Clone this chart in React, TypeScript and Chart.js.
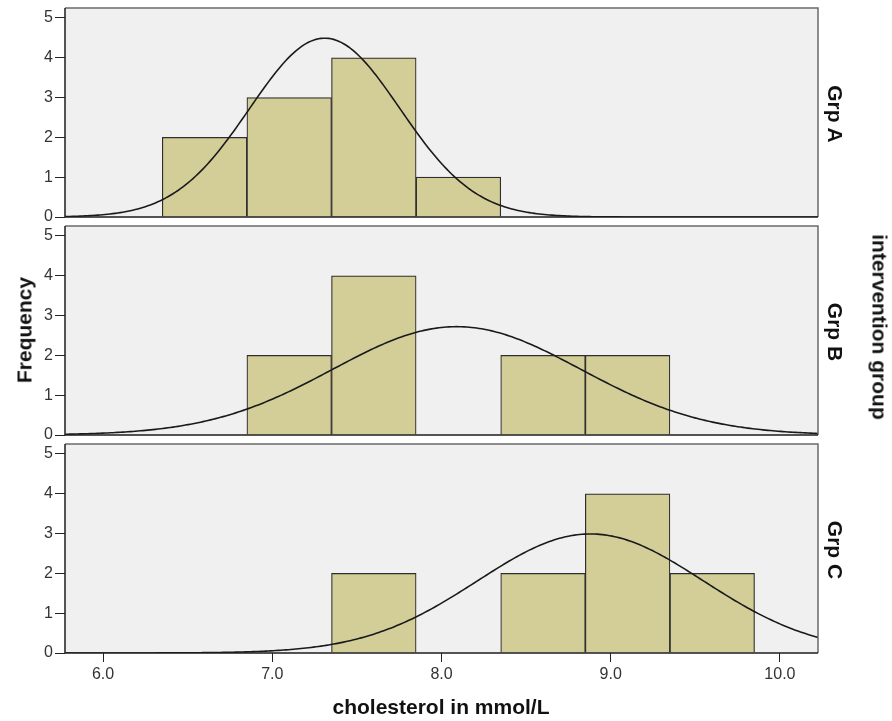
import React, { useEffect, useRef } from "react";
import { Chart, registerables } from "chart.js";

Chart.register(...registerables);

// ---------- data ----------
const GROUPS = ["Grp A", "Grp B", "Grp C"];
const BIN_MIDPOINTS = [6.6, 7.1, 7.6, 8.1, 8.6, 9.1, 9.6];
const GRP_A_COUNTS = [2, 3, 4, 1, 0, 0, 0];
const GRP_B_COUNTS = [0, 2, 4, 0, 2, 2, 0];
const GRP_C_COUNTS = [0, 0, 2, 0, 2, 4, 2];
const GROUP_COUNTS = [GRP_A_COUNTS, GRP_B_COUNTS, GRP_C_COUNTS];
const GROUP_MEANS = [7.31, 8.09, 8.88];
const GROUP_SDS = [0.444, 0.733, 0.667];
const GROUP_N = [10, 10, 10];
const BIN_WIDTH = 0.5;
const X_TICKS = [6, 7, 8, 9, 10];
const Y_TICKS = [0, 1, 2, 3, 4, 5];
const X_MIN = 5.775;
const X_MAX = 10.225;
const Y_MAX = 5.25;
const X_TITLE = "cholesterol in mmol/L";
const Y_TITLE = "Frequency";
const PANEL_TITLE = "intervention group";

// ---------- layout ----------
const W = 892;
const H = 721;
const PLOT_LEFT = 65;
const PLOT_RIGHT = 818;
const PANEL_TOPS = [8, 226, 444];
const PANEL_H = 209;
const X_AXIS_H = 40;
const FONT = "'Liberation Sans', Arial, Helvetica, sans-serif";

function normalCurve(i: number) {
  const pts: { x: number; y: number }[] = [];
  const m = GROUP_MEANS[i];
  const s = GROUP_SDS[i];
  const scale = GROUP_N[i] * BIN_WIDTH;
  const steps = 300;
  for (let k = 0; k <= steps; k++) {
    const x = X_MIN + ((X_MAX - X_MIN) * k) / steps;
    const z = (x - m) / s;
    pts.push({ x, y: (scale / (s * Math.sqrt(2 * Math.PI))) * Math.exp(-0.5 * z * z) });
  }
  return pts;
}

const panelPlugin = {
  id: "panelFrame",
  beforeDraw(chart: any) {
    const { ctx, chartArea: a } = chart;
    ctx.save();
    ctx.fillStyle = "#F0F0F0";
    ctx.fillRect(a.left, a.top, a.right - a.left, a.bottom - a.top);
    ctx.restore();
  },
  afterDatasetsDraw(chart: any) {
    const { ctx, chartArea: a } = chart;
    ctx.save();
    ctx.lineWidth = 1.5;
    ctx.strokeStyle = "#6a6a6a";
    ctx.beginPath();
    ctx.moveTo(a.left, a.top);
    ctx.lineTo(a.right, a.top);
    ctx.lineTo(a.right, a.bottom);
    ctx.stroke();
    ctx.strokeStyle = "#1e1e1e";
    ctx.beginPath();
    ctx.moveTo(a.left, a.top);
    ctx.lineTo(a.left, a.bottom);
    ctx.lineTo(a.right, a.bottom);
    ctx.stroke();
    ctx.restore();
  },
};

function Panel({ index }: { index: number }) {
  const ref = useRef<HTMLCanvasElement | null>(null);
  useEffect(() => {
    if (!ref.current) return;
    const isLast = index === GROUPS.length - 1;
    const top = PANEL_TOPS[index];
    const bottom = top + PANEL_H;
    const counts = GROUP_COUNTS[index];
    const bars = BIN_MIDPOINTS.map((x, k) => ({ x, y: counts[k] })).filter((d) => d.y > 0);
    const chart = new Chart(ref.current, {
      type: "bar",
      data: {
        datasets: [
          {
            type: "line",
            data: normalCurve(index),
            borderColor: "#1a1a1a",
            borderWidth: 1.6,
            pointRadius: 0,
            tension: 0,
            order: 0,
          } as any,
          {
            type: "bar",
            data: bars,
            backgroundColor: "#D3CE98",
            borderColor: "#2e2e2e",
            borderWidth: 1.2,
            borderSkipped: "start",
            barPercentage: 1,
            categoryPercentage: 1,
            order: 1,
          } as any,
        ],
      },
      options: {
        animation: false,
        responsive: false,
        devicePixelRatio: 1,
        events: [],
        layout: {
          padding: {
            left: 0,
            right: W - PLOT_RIGHT,
            top,
            bottom: isLast ? H - bottom - X_AXIS_H : H - bottom,
          },
        },
        plugins: { legend: { display: false }, tooltip: { enabled: false }, title: { display: false } },
        scales: {
          x: {
            type: "linear",
            min: X_MIN,
            max: X_MAX,
            offset: false,
            display: isLast,
            grid: {
              display: true,
              drawOnChartArea: false,
              drawTicks: true,
              tickLength: 9,
              tickColor: "#222",
              offset: false,
            },
            border: { display: false },
            ticks: {
              color: "#333",
              font: { family: FONT, size: 16 },
              padding: 3,
              maxRotation: 0,
              autoSkip: false,
              includeBounds: false,
              callback: (v: any) => Number(v).toFixed(1),
            },
            afterBuildTicks: (s: any) => {
              s.ticks = X_TICKS.map((v) => ({ value: v }));
            },
            afterFit: (s: any) => {
              s.height = isLast ? X_AXIS_H : 0;
              s.paddingLeft = 0;
              s.paddingRight = 0;
            },
          },
          y: {
            type: "linear",
            min: 0,
            max: Y_MAX,
            grid: {
              display: true,
              drawOnChartArea: false,
              drawTicks: true,
              tickLength: 10,
              tickColor: "#222",
            },
            border: { display: false },
            ticks: {
              color: "#333",
              font: { family: FONT, size: 16 },
              padding: 2,
              includeBounds: false,
              autoSkip: false,
            },
            afterBuildTicks: (s: any) => {
              s.ticks = Y_TICKS.map((v) => ({ value: v }));
            },
            afterFit: (s: any) => {
              s.width = PLOT_LEFT;
              s.paddingTop = 0;
              s.paddingBottom = 0;
            },
          },
        },
      } as any,
      plugins: [panelPlugin],
    });
    return () => chart.destroy();
  }, [index]);
  return (
    <canvas
      ref={ref}
      width={W}
      height={H}
      style={{ position: "absolute", left: 0, top: 0, width: W, height: H }}
    />
  );
}

const labelBase: React.CSSProperties = {
  position: "absolute",
  fontFamily: FONT,
  fontWeight: "bold",
  fontSize: 21,
  lineHeight: "1",
  whiteSpace: "nowrap",
  color: "#111",
};

export default function App() {
  return (
    <div
      style={{
        position: "absolute",
        left: 0,
        top: 0,
        width: W,
        height: H,
        background: "#fff",
        overflow: "hidden",
      }}
    >
      {GROUPS.map((g, i) => (
        <Panel key={g} index={i} />
      ))}
      {GROUPS.map((g, i) => (
        <div
          key={"lab" + g}
          style={{
            ...labelBase,
            left: 835,
            top: PANEL_TOPS[i] + PANEL_H / 2 + 1,
            transform: "translate(-50%, -50%) rotate(90deg)",
          }}
        >
          {g}
        </div>
      ))}
      <div
        style={{
          ...labelBase,
          left: 880,
          top: 327,
          transform: "translate(-50%, -50%) rotate(90deg)",
        }}
      >
        {PANEL_TITLE}
      </div>
      <div
        style={{
          ...labelBase,
          left: 24,
          top: 330,
          transform: "translate(-50%, -50%) rotate(-90deg)",
        }}
      >
        {Y_TITLE}
      </div>
      <div
        style={{
          ...labelBase,
          left: 441,
          top: 706,
          transform: "translate(-50%, -50%)",
        }}
      >
        {X_TITLE}
      </div>
    </div>
  );
}
